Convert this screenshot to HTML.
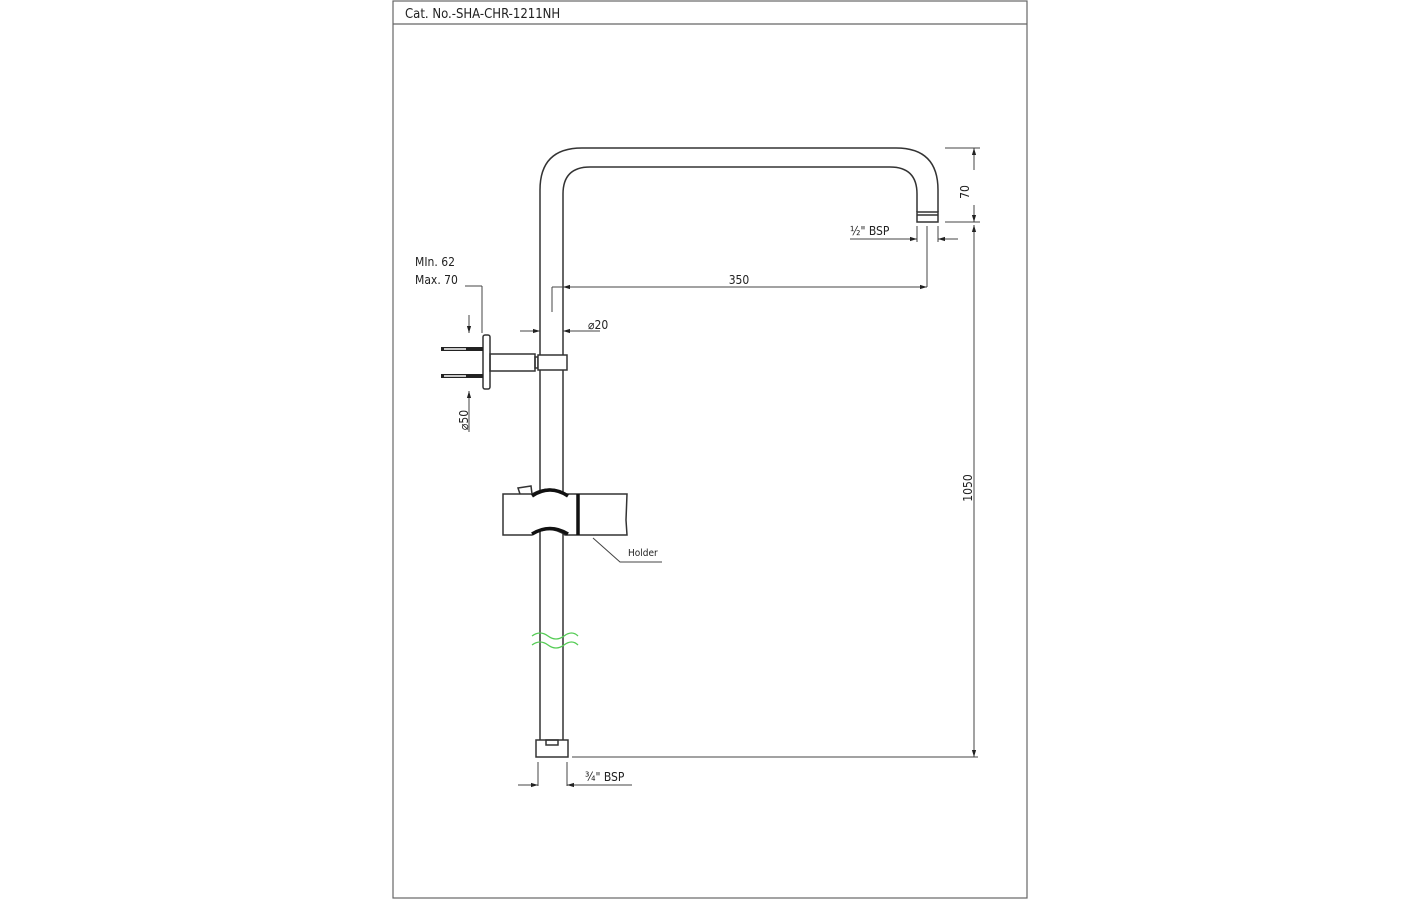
<!DOCTYPE html>
<html><head><meta charset="utf-8"><style>
html,body{margin:0;padding:0;background:#fff;}
svg{display:block}
text{font-family:"DejaVu Sans Condensed","Liberation Sans",sans-serif;fill:#222}
</style></head><body>
<svg width="1420" height="900" viewBox="0 0 1420 900" xmlns="http://www.w3.org/2000/svg">
<defs>
<marker id="a" viewBox="0 0 10 10" refX="10" refY="5" markerWidth="7" markerHeight="7" orient="auto-start-reverse"><path d="M0,2 L10,5 L0,8z" fill="#222"/></marker>
</defs>
<g fill="none" stroke="#666" stroke-width="1.2">
<rect x="393" y="1" width="634" height="897"/>
<line x1="393" y1="24" x2="1027" y2="24"/>
</g>
<text x="405" y="18" font-size="13">Cat. No.-SHA-CHR-1211NH</text>
<g fill="none" stroke="#333" stroke-width="1.5">
<!-- pipe outer -->
<path d="M540,757 L540,190 Q540,148 582,148 L896,148 Q938,148 938,190 L938,212"/>
<path d="M563,740 L563,194 Q563,167 590,167 L890,167 Q917,167 917,194 L917,212"/>
<rect x="917" y="212" width="21" height="10" fill="#fff"/>
<line x1="917" y1="215" x2="938" y2="215"/>
<!-- bottom fitting -->
<rect x="536" y="740" width="32" height="17" fill="#fff"/>
<rect x="546" y="740" width="12" height="5"/>
<!-- bracket -->
<rect x="483" y="335" width="7" height="54" rx="2"/>
<rect x="490" y="354" width="45" height="17"/>
<rect x="535" y="357" width="3" height="11"/>
<rect x="538" y="355" width="29" height="15" fill="#fff"/>
<!-- holder -->
<path d="M503,494 L532,494 Q550,484 565,494 L578,494 L627,494 L626,520 L627,535 L578,535 L565,535 Q550,524 532,535 L503,535 Z" fill="#fff"/>
<path d="M520,494 L518,488 L531,486 L532,494"/>
<line x1="540" y1="494" x2="563" y2="494" stroke="#fff" stroke-width="2"/>
</g>
<g stroke="#111" stroke-width="3.5" fill="none">
<path d="M532,496 Q550,484 568,496"/>
<path d="M532,534 Q550,523 568,534"/>
<line x1="578" y1="494" x2="578" y2="535"/>
</g>
<!-- bolts -->
<g stroke="#222" stroke-width="4"><line x1="441" y1="349" x2="483" y2="349"/><line x1="441" y1="376" x2="483" y2="376"/></g>
<g stroke="#fff" stroke-width="1.5"><line x1="444" y1="349" x2="466" y2="349"/><line x1="444" y1="376" x2="466" y2="376"/></g>
<!-- wave -->
<g stroke="#5c5" stroke-width="1.3" fill="none">
<path d="M532,636 Q540,630 548,636 T564,636 T578,636"/>
<path d="M532,645 Q540,639 548,645 T564,645 T578,645"/>
</g>
<!-- dimensions -->
<g stroke="#444" stroke-width="1" fill="none">
<line x1="945" y1="148" x2="980" y2="148"/>
<line x1="945" y1="222" x2="980" y2="222"/>
<line x1="974" y1="170" x2="974" y2="148" marker-end="url(#a)"/>
<line x1="974" y1="205" x2="974" y2="222" marker-end="url(#a)"/>
<line x1="974" y1="225" x2="974" y2="757"/>
<line x1="974" y1="235" x2="974" y2="225" marker-end="url(#a)"/>
<line x1="974" y1="740" x2="974" y2="757" marker-end="url(#a)"/>
<line x1="572" y1="757" x2="978" y2="757"/>
<line x1="917" y1="226" x2="917" y2="242"/><line x1="938" y1="226" x2="938" y2="242"/>
<line x1="850" y1="239" x2="917" y2="239" marker-end="url(#a)"/>
<line x1="958" y1="239" x2="938" y2="239" marker-end="url(#a)"/>
<line x1="927" y1="226" x2="927" y2="287"/>
<line x1="563" y1="287" x2="927" y2="287" marker-end="url(#a)" marker-start="url(#a)"/>
<line x1="552" y1="287" x2="563" y2="287"/>
<line x1="552" y1="287" x2="552" y2="312"/>
<line x1="520" y1="331" x2="540" y2="331" marker-end="url(#a)"/>
<line x1="583" y1="331" x2="563" y2="331" marker-end="url(#a)"/>
<line x1="583" y1="331" x2="600" y2="331"/>
<line x1="465" y1="286" x2="482" y2="286"/>
<line x1="482" y1="286" x2="482" y2="333"/>
<line x1="469" y1="315" x2="469" y2="333" marker-end="url(#a)"/>
<line x1="469" y1="410" x2="469" y2="391" marker-end="url(#a)"/>
<line x1="469" y1="410" x2="469" y2="432"/>
<line x1="538" y1="762" x2="538" y2="786"/><line x1="567" y1="762" x2="567" y2="786"/>
<line x1="518" y1="785" x2="538" y2="785" marker-end="url(#a)"/>
<line x1="587" y1="785" x2="567" y2="785" marker-end="url(#a)"/>
<line x1="587" y1="785" x2="632" y2="785"/>
<polyline points="593,538 620,562 662,562"/>
</g>
<g font-size="12">
<text x="965" y="192" transform="rotate(-90 965 192)" text-anchor="middle" dy="4">70</text>
<text x="850" y="235">½" BSP</text>
<text x="739" y="284" text-anchor="middle">350</text>
<text x="588" y="329">⌀20</text>
<text x="415" y="266">MIn. 62</text>
<text x="415" y="284">Max. 70</text>
<text x="464" y="420" transform="rotate(-90 464 420)" text-anchor="middle" dy="4">⌀50</text>
<text x="968" y="488" transform="rotate(-90 968 488)" text-anchor="middle" dy="4">1050</text>
<text x="585" y="781">¾" BSP</text>
<text x="628" y="556" font-size="10">Holder</text>
</g>
</svg>
</body></html>
